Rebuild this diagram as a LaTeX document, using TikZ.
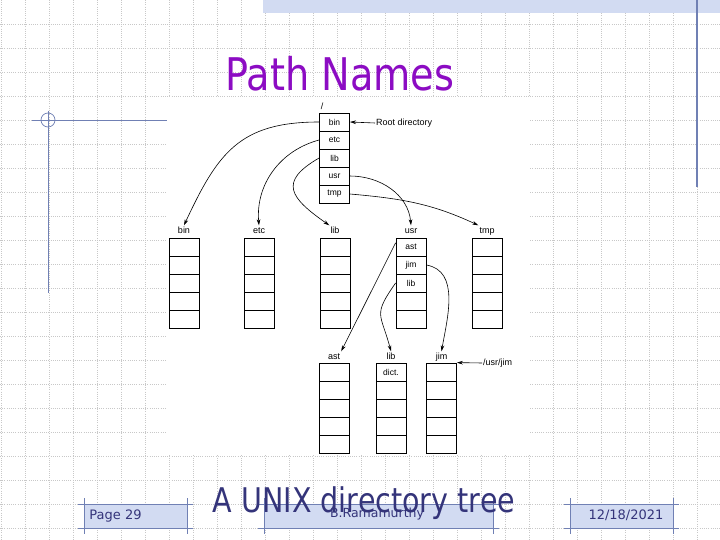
\documentclass[tikz,border=0pt]{standalone}
\usepackage{fontspec}
\usepackage{graphicx}
\setmainfont{Liberation Sans}
\newfontfamily\slidefont{DejaVu Sans}
\usepackage{tikz}
\usetikzlibrary{arrows.meta,positioning,calc}

\definecolor{titlepurple}{RGB}{140,12,195}
\definecolor{footblue}{RGB}{52,52,122}
\definecolor{rulecol}{RGB}{112,128,180}
\definecolor{bandcol}{RGB}{210,219,242}
\definecolor{gridcol}{RGB}{200,200,200}

\begin{document}
\begin{tikzpicture}[x=1pt,y=1pt,every node/.style={inner sep=1pt},>={Stealth[length=6pt,width=3.6pt]},
  cell/.style={draw,fill=white,line width=0.8pt,minimum width=30pt,minimum height=18pt,inner sep=0pt,font=\fontsize{8.5}{10}\selectfont},
  dirlbl/.style={text height=7pt,text depth=2pt,font=\fontsize{9}{10}\selectfont},
  link/.style={->,line width=0.6pt},
  rule/.style={draw=rulecol,line width=0.9pt},
  gridline/.style={gridcol,line width=0.6pt,dash pattern=on 1pt off 1.2pt}]
\useasboundingbox (0,0) rectangle (720,-540);
\fill[white] (0,0) rectangle (720,-540);
% slide background
\foreach \gx in {1,25,...,697} \draw[gridline] (\gx,0) -- (\gx,-540);
\foreach \gy in {24,48,...,528} \draw[gridline] (0,-\gy) -- (720,-\gy);
\fill[bandcol] (263,0) rectangle (720,-13);
\draw[rulecol,line width=1.3pt] (697,0) -- (697,-187);
\draw[rulecol,line width=0.9pt] (32,-120) -- (167,-120) (48,-111) -- (48,-293);
\draw[rulecol,line width=0.7pt] (48,-120) circle (7);
\fill[white] (167,-97) rectangle (530,-455);
\foreach \xa/\xb in {84/187,264/493,570/673} {
  \fill[bandcol] (\xa,-504) rectangle (\xb,-528);
  \draw[rule] (\xa-6,-504) -- (\xb+6,-504) (\xa-6,-528) -- (\xb+6,-528) (\xa,-498) -- (\xa,-534) (\xb,-498) -- (\xb,-534);
}
\node[text=footblue] (page) at (115.5,-516) {\slidefont\fontsize{13}{15}\selectfont Page 29};
\node[text=footblue] (author) at (377,-514) {\slidefont\fontsize{12.5}{15}\selectfont B.Ramamurthy};
\node[text=footblue] (date) at (626,-515) {\slidefont\fontsize{13}{15}\selectfont 12/18/2021};
\node[text=titlepurple,anchor=base] (title) at (340,-91) {\scalebox{0.85}[1]{\slidefont\fontsize{45}{50}\selectfont Path Names}};
\node[text=footblue,anchor=base] (caption) at (364,-512) {\scalebox{0.84}[1]{\slidefont\fontsize{34}{40}\selectfont A UNIX directory tree}};
% root directory
\node[dirlbl] (slash) at (322,-107) {/};
\foreach \r/\t in {1/bin,2/etc,3/lib,4/usr,5/tmp} \node[cell] (root-\r) at (334.5,-104-18*\r) {\t};
\node[dirlbl,anchor=west] (rootdir) at (375,-123) {Root directory};
\draw[link] (rootdir.west) -- (root-1.east);
% second level
\foreach \d/\cx in {bin/184,etc/259,lib/335,tmp/487} {
  \node[dirlbl] (l-\d) at (\cx,-231) {\d};
  \foreach \r in {1,...,5} \node[cell] (\d-\r) at (\cx,-229-18*\r) {};
}
\node[dirlbl] (l-usr) at (411,-231) {usr};
\foreach \r/\t in {1/ast,2/jim,3/lib,4/,5/} \node[cell] (usr-\r) at (411,-229-18*\r) {\t};
% third level
\foreach \d/\cx/\t in {uast/334/ast,ujim/441.5/jim} {
  \node[dirlbl] (l-\d) at (\cx,-357) {\t};
  \foreach \r in {1,...,5} \node[cell] (\d-\r) at (\cx,-354-18*\r) {};
}
\node[dirlbl] (l-ulib) at (391,-357) {lib};
\foreach \r/\t in {1/dict.,2/,3/,4/,5/} \node[cell] (ulib-\r) at (391,-354-18*\r) {\t};
\node[dirlbl,anchor=west] (usrjim) at (482,-363) {/usr/jim};
\draw[link] (usrjim.west) -- (ujim-1.north east);
\path[link] (root-1.west) edge[out=180,in=65,looseness=1.2] (l-bin.north);
\path[link] (root-2.west) edge[out=195,in=95] (l-etc.north);
\path[link] (root-3.west) edge[out=210,in=145,looseness=1.8] (l-lib.north west);
\path[link] (root-4.east) edge[out=0,in=95] (l-usr.north);
\path[link] (root-5.east) edge[out=-5,in=155] (l-tmp.north west);
\path[link] (usr-1.165) edge (l-uast.north east);
\path[link] (usr-3.west) edge[out=235,in=105,looseness=1.5] (l-ulib.north);
\path[link] (usr-2.east) edge[out=-10,in=80] (l-ujim.north);
\end{tikzpicture}
\end{document}
